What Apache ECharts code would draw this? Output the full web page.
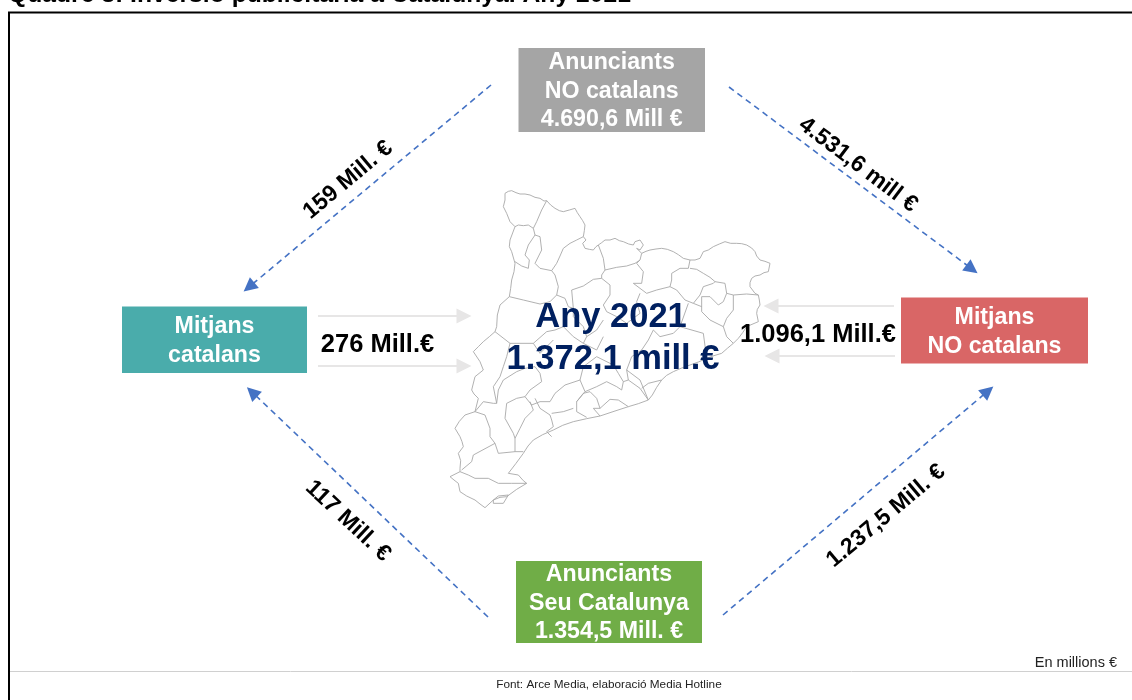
<!DOCTYPE html>
<html>
<head>
<meta charset="utf-8">
<style>html,body{margin:0;padding:0;background:#fff}#c{width:1132px;height:700px}</style>
<script src="https://cdn.jsdelivr.net/npm/echarts@6/dist/echarts.min.js"></script>
</head>
<body>
<div id="c"></div>
<script>
// ---------- values and text ----------
const titleText = 'Quadre 8: Inversió publicitària a Catalunya. Any 2021';
const unitNote = 'En millions €';
const sourceNote = 'Font: Arce Media, elaboració Media Hotline';
const boxLabels = [
  'Anunciants\nNO catalans\n4.690,6 Mill €',
  'Anunciants\nSeu Catalunya\n1.354,5 Mill. €',
  'Mitjans\ncatalans',
  'Mitjans\nNO catalans'
];
const dashedFlowLabels = ['159 Mill. €', '4.531,6 mill €', '117 Mill. €', '1.237,5 Mill. €'];
const levelFlowLabels = ['276 Mill.€', '1.096,1 Mill.€'];
const centreLabels = ['Any 2021', '1.372,1 mill.€'];

// comarques outline, in map units
const mapOutlines = [
 // outer boundary
 [[195,40],[205,34],[215,32],[228,38],[240,42],[255,42],[270,45],[285,52],[300,55],[312,63],[320,62],[332,75],[345,85],[358,92],[370,95],[388,90],[405,85],[412,98],[420,110],[428,122],[435,135],[433,152],[430,170],[438,180],[428,190],[435,205],[448,208],[460,210],[468,200],[475,195],[485,188],[495,180],[510,180],[525,175],[538,182],[550,185],[566,192],[580,195],[585,185],[600,180],[610,195],[600,210],[590,205],[605,220],[618,214],[630,210],[648,207],[665,205],[682,208],[700,215],[715,224],[730,235],[750,240],[765,240],[780,235],[790,215],[805,210],[820,200],[838,192],[855,185],[872,190],[890,190],[905,191],[920,195],[935,204],[945,215],[950,228],[960,240],[975,244],[990,250],[985,275],[972,278],[960,285],[945,288],[935,295],[930,308],[930,320],[945,340],[955,345],[958,360],[960,375],[952,388],[950,400],[955,425],[936,433],[920,440],[908,458],[895,475],[880,490],[862,505],[845,520],[822,527],[800,535],[775,546],[750,555],[725,564],[700,575],[680,586],[665,600],[650,622],[637,645],[625,660],[595,671],[565,680],[522,694],[480,708],[440,716],[400,725],[368,736],[340,750],[308,764],[280,780],[264,798],[250,820],[228,850],[205,880],[235,885],[250,902],[260,910],[230,928],[200,950],[180,952],[160,960],[135,983],[120,972],[105,960],[80,948],[60,935],[55,910],[42,900],[30,890],[60,875],[60,865],[62,842],[55,820],[70,800],[66,785],[60,770],[45,745],[58,724],[75,705],[105,695],[115,655],[102,642],[95,630],[105,590],[130,570],[120,545],[100,515],[115,500],[130,485],[148,470],[165,455],[170,440],[172,405],[180,375],[208,350],[212,325],[215,300],[222,275],[225,250],[215,215],[208,200],[210,180],[225,140],[210,125],[200,100],[190,80],[195,60],[195,40]],
 // Aran
 [[320,62],[305,90],[290,125],[280,145],[265,135],[250,137],[235,135],[225,140]],
 // Alta Ribagorça / Pallars
 [[225,245],[245,258],[265,265],[268,240],[255,225],[265,195],[285,165],[300,170],[305,210],[285,250],[300,265],[335,272]],
 [[280,145],[285,165]],
 [[208,350],[250,360],[300,372],[330,365],[350,345],[355,320],[345,285],[335,272]],
 [[430,170],[410,180],[390,190],[370,205],[360,228],[350,250],[335,272]],
 // Solsonès / Alt Urgell
 [[475,195],[490,235],[495,270],[530,262],[560,258],[585,250],[600,240],[605,220]],
 [[350,345],[375,355],[385,380],[400,385],[395,330],[430,318],[460,298],[485,295],[485,285],[495,270]],
 // Berguedà / Cerdanya
 [[600,240],[590,250],[610,275],[605,310],[580,310],[600,325],[620,340],[650,330],[690,320],[695,300],[695,280],[720,265],[745,265],[750,240]],
 [[750,265],[770,268],[790,280],[810,292],[825,305],[820,310],[790,320],[780,345],[760,370],[735,360],[710,330],[690,320]],
 // Garrotxa / Empordà
 [[825,305],[855,310],[860,340],[850,365],[835,375],[810,350],[785,350],[785,395],[810,420],[850,440],[860,470],[880,490]],
 [[860,340],[880,345],[920,342],[955,345]],
 [[880,345],[880,390],[860,415],[850,440]],
 [[760,370],[785,380]],
 // Bages / Osona / Anoia (centre, under the text)
 [[485,295],[510,315],[510,345],[490,375],[500,395],[530,410],[560,430],[600,400],[590,365],[600,340]],
 [[745,370],[720,440],[700,460],[660,470],[640,450],[625,480],[605,510],[575,530],[560,570],[600,600],[625,660]],
 [[720,440],[790,460],[800,535]],
 [[490,420],[470,450],[440,470],[430,490],[470,510],[490,470]],
 [[165,455],[210,490],[280,490],[320,455],[345,450],[370,440],[400,470],[430,490]],
 [[400,385],[400,410],[430,440],[440,470]],
 [[280,490],[300,520],[340,480]],
 [[210,490],[200,530],[190,560],[180,590],[160,620],[170,670]],
 // Urgell / Segarra / Conca
 [[105,695],[130,665],[160,670],[170,670],[175,630],[190,600],[230,575],[255,565],[285,560],[300,580],[305,605],[270,630],[255,650],[275,675],[300,665],[330,665],[345,640],[375,615],[420,600],[435,635],[410,665],[410,695],[440,712]],
 [[255,650],[230,655],[200,670],[195,715],[220,760],[225,775],[225,815]],
 [[225,775],[240,745],[255,715],[280,690],[270,665]],
 [[285,655],[300,685],[330,705],[335,720],[340,740],[320,755],[335,770]],
 [[335,700],[370,695],[400,685]],
 // Terra Alta / Ribera d'Ebre
 [[105,695],[135,705],[150,745],[150,770],[165,790],[100,825],[95,845],[65,870]],
 [[165,790],[175,820],[225,815],[250,815]],
 // Ebre delta / Montsià
 [[60,875],[85,885],[105,895],[145,895],[175,910],[215,910],[260,910]],
 [[160,960],[175,948],[205,945],[190,970],[160,970],[160,960]],
 // Barcelona area
 [[410,665],[430,640],[450,635],[470,655],[480,685],[460,685],[480,708]],
 [[480,685],[510,658],[535,660],[565,680]],
 [[435,635],[470,620],[500,605],[530,620],[545,630],[550,605],[535,580],[520,555]],
 [[550,605],[565,600],[600,625],[625,660]],
 [[605,625],[625,610],[665,600]],
 [[565,600],[560,570]],
 [[420,600],[430,560],[470,530],[520,555]]
];

// ---------- layout of the diagram, in page pixels ----------
const boxRects = [[518.5,48,705,132],[516,561,702,643],[122,306.5,307,373],[901,297.5,1088,363.5]];
const boxColors = ['#a5a5a5','#70ad47','#4aacab','#d96666'];
const dashedFlowEnds = [[[491,85],[249,287]],[[729,87],[972,269]],[[488,617],[252,392]],[[723,615],[988,391]]];
const levelFlowEnds = [[[318,316],[464,316]],[[318,366],[464,366]],[[894,306],[771,306]],[[895,356],[772,356]]];
const dashedLabelAnchors = [[348,180,40],[858,165,-37],[348,521,-43],[886,516,40]];
const levelLabelAnchors = [[377.5,345],[818,335]];
const centreAnchors = [[611,317],[613,359]];

const FONT = '"Liberation Sans", Arial, sans-serif';
const chart = echarts.init(document.getElementById('c'), null, {renderer:'canvas'});

// text placed through the page axes
const textSeries = (name, data, size, color) => ({
  type:'custom', name, xAxisIndex:0, yAxisIndex:0, silent:true, z:6,
  data: data.map(d => [d.x, d.y, d.rot||0]),
  renderItem:(params, api) => {
    const p = api.coord([api.value(0), api.value(1)]);
    return {
      type:'text', x:p[0], y:p[1], rotation:api.value(2)*Math.PI/180,
      style:{x:0, y:0, text:data[params.dataIndex].text, fill:color,
        font:'bold '+size+'px '+FONT, textAlign:'center', textVerticalAlign:'middle'}
    };
  }
});

chart.setOption({
  animation:false,
  backgroundColor:'#fff',
  grid:[
    {left:0, top:0, width:1132, height:700, containLabel:false},
    {left:440, top:180, width:340, height:340, containLabel:false}
  ],
  xAxis:[
    {type:'value', gridIndex:0, min:0, max:1132, show:false},
    {type:'value', gridIndex:1, min:0, max:1020, show:false}
  ],
  yAxis:[
    {type:'value', gridIndex:0, min:0, max:700, inverse:true, show:false},
    {type:'value', gridIndex:1, min:0, max:1020, inverse:true, show:false}
  ],
  graphic:[
    {type:'rect', z:0, shape:{x:9,y:12.5,width:1130,height:700}, style:{fill:'none',stroke:'#000',lineWidth:2}},
    {type:'line', z:0, shape:{x1:10,y1:671.5,x2:1132,y2:671.5}, style:{stroke:'#d0d0d0',lineWidth:1}},
    {type:'text', z:10, x:8, y:-17.5, style:{text:titleText, font:'bold 24.7px '+FONT, fill:'#000'}},
    {type:'text', z:10, x:1117, y:655, style:{text:unitNote, font:'14.5px '+FONT, fill:'#222', textAlign:'right'}},
    {type:'text', z:10, x:609, y:679, style:{text:sourceNote, font:'11.75px '+FONT, fill:'#222', textAlign:'center'}}
  ],
  series:[
    {
      type:'lines', name:'map', coordinateSystem:'cartesian2d', xAxisIndex:1, yAxisIndex:1,
      polyline:true, silent:true, z:1,
      lineStyle:{color:'#a8a8a8', width:0.9, opacity:1},
      data: mapOutlines.map(p => ({coords:p}))
    },
    {
      type:'lines', name:'level flows', coordinateSystem:'cartesian2d', xAxisIndex:0, yAxisIndex:0,
      silent:true, z:2, symbol:['none','triangle'], symbolSize:15,
      lineStyle:{color:'#e7e6e6', width:2, opacity:1},
      data: levelFlowEnds.map(e => ({coords:e}))
    },
    {
      type:'lines', name:'dashed flows', coordinateSystem:'cartesian2d', xAxisIndex:0, yAxisIndex:0,
      silent:true, z:3, symbol:['none','triangle'], symbolSize:14,
      lineStyle:{color:'#4472c4', width:1.6, opacity:1, type:[6,4.5]},
      data: dashedFlowEnds.map(e => ({coords:e}))
    },
    {
      type:'custom', name:'boxes', xAxisIndex:0, yAxisIndex:0, silent:true, z:4,
      data: boxRects.map((r,i) => ({value:r})),
      renderItem:(params, api) => {
        const a = api.coord([api.value(0), api.value(1)]);
        const b = api.coord([api.value(2), api.value(3)]);
        const i = params.dataIndex;
        return {type:'group', children:[
          {type:'rect', shape:{x:a[0],y:a[1],width:b[0]-a[0],height:b[1]-a[1]}, style:{fill:boxColors[i]}},
          {type:'text', style:{x:(a[0]+b[0])/2, y:(a[1]+b[1])/2+1.5, text:boxLabels[i], fill:'#fff',
            font:'bold 23.2px '+FONT, lineHeight:28.5, textAlign:'center', textVerticalAlign:'middle'}}
        ]};
      }
    },
    textSeries('dashed labels', dashedFlowLabels.map((t,i)=>({text:t,x:dashedLabelAnchors[i][0],y:dashedLabelAnchors[i][1],rot:dashedLabelAnchors[i][2]})), 23, '#000'),
    textSeries('level labels', levelFlowLabels.map((t,i)=>({text:t,x:levelLabelAnchors[i][0],y:levelLabelAnchors[i][1]})), 25.5, '#000'),
    textSeries('centre labels', centreLabels.map((t,i)=>({text:t,x:centreAnchors[i][0],y:centreAnchors[i][1]})), 34.5, '#002060')
  ]
});
</script>
</body>
</html>
